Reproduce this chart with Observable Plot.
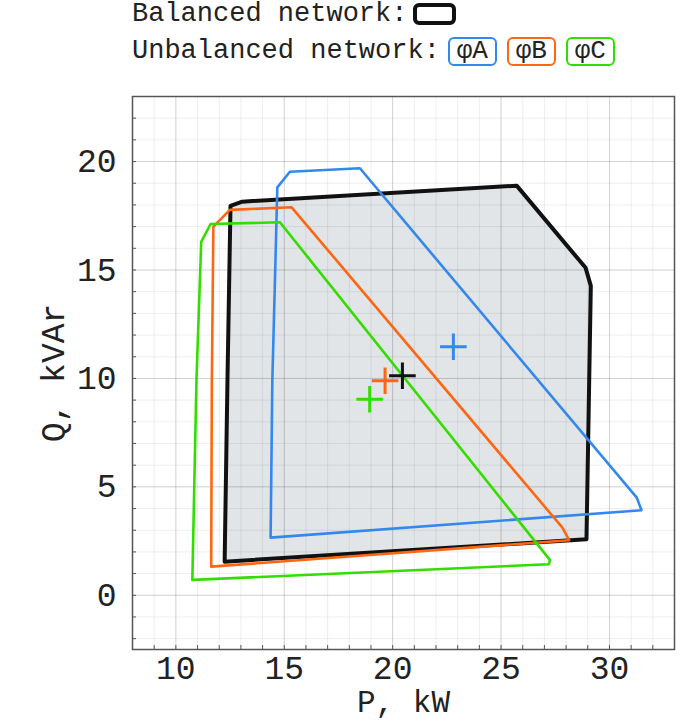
<!DOCTYPE html>
<html>
<head>
<meta charset="utf-8">
<script src="https://cdn.jsdelivr.net/npm/d3@7"></script>
<script src="https://cdn.jsdelivr.net/npm/@observablehq/plot@0.6"></script>
<style>
  html, body { margin: 0; padding: 0; background: #fff; }
  #wrap { position: relative; width: 698px; height: 721px; font-family: "Courier New", "Liberation Mono", monospace; color: #222; }
  #legend { position: absolute; left: 0; top: 0; width: 698px; height: 70px; font-size: 27px; }
  .row { position: absolute; left: 132px; display: flex; align-items: center; white-space: pre; }
  .box { box-sizing: border-box; border-radius: 6px; display: inline-flex; align-items: center; justify-content: center; }
  #chart { position: absolute; left: 0; top: 0; }
</style>
</head>
<body>
<div id="wrap">
  <div id="chart"></div>
  <div id="legend"></div>
</div>
<script>
// ---- data ----
const balancedP = [12.25, 28.94, 29.14, 28.9, 25.72, 13.06, 12.52, 12.38];
const balancedQ = [1.55, 2.58, 14.27, 15.1, 18.89, 18.15, 17.96, 9.9];

const phaseAP = [14.37, 31.48, 31.26, 18.49, 15.26, 14.68, 14.57, 14.45];
const phaseAQ = [2.66, 3.92, 4.5, 19.69, 19.53, 18.81, 14.5, 9.9];

const phaseBP = [11.63, 28.14, 27.83, 15.34, 12.49, 11.73, 11.66];
const phaseBQ = [1.32, 2.54, 3.12, 17.89, 17.77, 17.0, 9.9];

const phaseCP = [10.76, 27.2, 27.26, 14.8, 11.6, 11.17, 10.95];
const phaseCQ = [0.71, 1.43, 1.62, 17.2, 17.12, 16.3, 9.9];

const centerNames = ["φA", "φB", "φC", "Balanced"];
const centerP = [22.8, 19.65, 18.94, 20.45];
const centerQ = [11.46, 9.89, 9.04, 10.12];

const seriesNames = ["φA", "φB", "φC"];
const seriesColors = ["#3388ee", "#ff6611", "#33dd00"];
const balancedColor = "#111111";
const fillColor = "#e1e5e8";

const xTicks = [10, 15, 20, 25, 30];
const yTicks = [0, 5, 10, 15, 20];
const xDomain = [8, 33];
const yDomain = [-2.5, 23];
const xLabel = ["P, kW"];
const yLabel = "Q, kVAr";

// ---- build tables ----
const toPts = (P, Q, name) => P.map((p, i) => ({p, q: Q[i], name}));
const balanced = toPts(balancedP, balancedQ, "Balanced");
const phases = [
  ...toPts(phaseAP, phaseAQ, "φA"),
  ...toPts(phaseBP, phaseBQ, "φB"),
  ...toPts(phaseCP, phaseCQ, "φC")
];
const centers = centerNames.map((n, i) => ({name: n, p: centerP[i], q: centerQ[i]}));
const colorOf = n => n === "Balanced" ? balancedColor : seriesColors[seriesNames.indexOf(n)];

const crossSymbol = {
  draw(context, size) {
    const r = Math.sqrt(size / Math.PI);
    context.moveTo(-r, 0); context.lineTo(r, 0);
    context.moveTo(0, -r); context.lineTo(0, r);
  }
};

const minorX = d3.range(8, 34);
const minorY = d3.range(-2, 24);

const chart = Plot.plot({
  width: 698,
  height: 721,
  marginLeft: 132,
  marginRight: 24,
  marginTop: 96,
  marginBottom: 72,
  style: {fontFamily: '"Courier New", "Liberation Mono", monospace', fontSize: "33px", color: "#222", background: "#fff"},
  x: {domain: xDomain},
  y: {domain: yDomain},
  marks: [
    Plot.line(balanced, {x: "p", y: "q", curve: "linear-closed", fill: fillColor, stroke: "none"}),
    Plot.gridX(minorX, {stroke: "#000", strokeOpacity: 0.07, strokeWidth: 1}),
    Plot.gridY(minorY, {stroke: "#000", strokeOpacity: 0.07, strokeWidth: 1}),
    Plot.gridX(xTicks, {stroke: "#000", strokeOpacity: 0.12, strokeWidth: 1}),
    Plot.gridY(yTicks, {stroke: "#000", strokeOpacity: 0.12, strokeWidth: 1}),
    Plot.line(balanced, {x: "p", y: "q", curve: "linear-closed", stroke: balancedColor, strokeWidth: 4, strokeLinejoin: "round"}),
    Plot.line(phases, {x: "p", y: "q", z: "name", curve: "linear-closed", stroke: d => colorOf(d.name), strokeWidth: 2.6, strokeLinejoin: "round"}),
    Plot.dot(centers, {x: "p", y: "q", symbol: crossSymbol, r: 13.3, stroke: d => colorOf(d.name), strokeWidth: 3, fill: "none"}),
    Plot.frame({stroke: "#555", strokeWidth: 1.5}),
    Plot.axisX(minorX, {tickSize: -4, text: null, stroke: "#555", label: null}),
    Plot.axisY(minorY, {tickSize: -4, text: null, stroke: "#555", label: null}),
    Plot.axisX(xTicks, {tickSize: 0, tickPadding: 6, fontSize: 33, fill: "#222", label: null}),
    Plot.text(xLabel, {frameAnchor: "bottom", dy: 62, lineAnchor: "bottom", fontSize: 31, fill: "#222"}),
    Plot.axisY(yTicks, {tickSize: 0, tickPadding: 16, fontSize: 33, fill: "#222",
      label: yLabel, labelAnchor: "center", labelArrow: "none", labelOffset: 92})
  ]
});
document.getElementById("chart").appendChild(chart);

// ---- legend ----
const legend = document.getElementById("legend");
const row1 = document.createElement("div");
row1.className = "row";
row1.style.top = "0px";
row1.style.height = "28px";
row1.innerHTML = `<span>Balanced network:</span>`;
const b0 = document.createElement("span");
b0.className = "box";
Object.assign(b0.style, {width: "43px", height: "22px", border: `4px solid ${balancedColor}`, marginLeft: "6px"});
row1.appendChild(b0);
legend.appendChild(row1);

const row2 = document.createElement("div");
row2.className = "row";
row2.style.top = "36px";
row2.style.height = "30px";
row2.innerHTML = `<span>Unbalanced network:</span>`;
seriesNames.forEach((n, i) => {
  const b = document.createElement("span");
  b.className = "box";
  b.textContent = n;
  Object.assign(b.style, {width: "49px", height: "29px", border: `2px solid ${seriesColors[i]}`,
    marginLeft: i === 0 ? "8px" : "10px", fontSize: "26px"});
  row2.appendChild(b);
});
legend.appendChild(row2);
</script>
</body>
</html>
